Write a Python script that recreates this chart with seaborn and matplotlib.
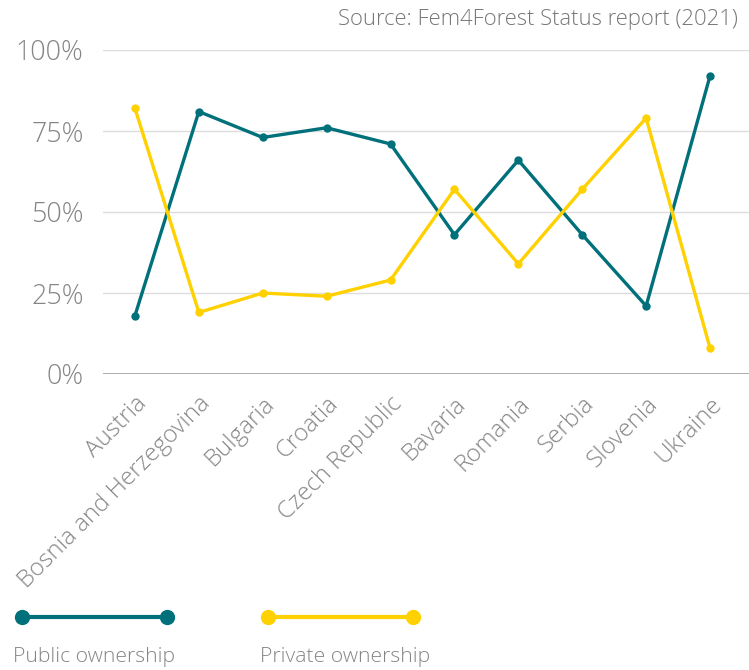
import pandas as pd
import seaborn as sns
import matplotlib.pyplot as plt
from matplotlib.lines import Line2D

countries = ['Austria', 'Bosnia and Herzegovina', 'Bulgaria', 'Croatia', 'Czech Republic',
             'Bavaria', 'Romania', 'Serbia', 'Slovenia', 'Ukraine']
public = [18, 81, 73, 76, 71, 43, 66, 43, 21, 92]
private = [82, 19, 25, 24, 29, 57, 34, 57, 79, 8]
series = ['Public ownership', 'Private ownership']
colors = {'Public ownership': '#00707a', 'Private ownership': '#ffd100'}
y_ticks = [0, 25, 50, 75, 100]

df = pd.concat([
    pd.DataFrame({'Country': countries, 'Share': public, 'Type': series[0]}),
    pd.DataFrame({'Country': countries, 'Share': private, 'Type': series[1]}),
], ignore_index=True)

sns.set_style('white')
plt.rcParams['font.family'] = ['Open Sans', 'DejaVu Sans']
plt.rcParams['font.weight'] = 'light'
grey = '#858585'

fig = plt.figure(figsize=(7.49, 6.70), dpi=100)
ax = fig.add_axes([103 / 749, 1 - 374 / 670, 1 - 103 / 749, (374 - 50) / 670])

sns.lineplot(data=df, x='Country', y='Share', hue='Type', palette=colors, sort=False,
             marker='o', markersize=6, markeredgewidth=0, linewidth=2.4, legend=False, ax=ax)

ax.set_xlim(-0.5, 9.61)
ax.set_ylim(0, 100)
ax.set_yticks(y_ticks)
ax.set_yticklabels([f'{t}%' for t in y_ticks], fontsize=19.4, color=grey, fontweight='light')
ax.set_xticks(range(len(countries)))
ax.set_xticklabels(countries, rotation=45, ha='right', rotation_mode='anchor',
                   fontsize=17.4, color=grey, fontweight='light')
ax.tick_params(axis='y', length=0, pad=14)
ax.tick_params(axis='x', length=0, pad=13)
for t in y_ticks[1:]:
    ax.axhline(t, color='#dddddd', linewidth=1, zorder=0)
ax.axhline(0, color='#a0a0a0', linewidth=1.2, zorder=0)
for s in ax.spines.values():
    s.set_visible(False)
ax.set_xlabel('')
ax.set_ylabel('')

fig.text(738 / 749, 1 - 20 / 670, 'Source: Fem4Forest Status report (2021)', ha='right', va='center',
         fontsize=15.8, color='#777777', fontweight='light')

# custom legend below chart
for name, x0, tx in [(series[0], 22, 13), (series[1], 268, 260)]:
    fig.add_artist(Line2D([x0 / 749, (x0 + 145) / 749], [1 - 617 / 670] * 2, color=colors[name],
                          linewidth=3, marker='o', markersize=11, markeredgewidth=0,
                          transform=fig.transFigure))
    fig.text(tx / 749, 1 - 657 / 670, name, ha='left', va='center', fontsize=15.2,
             color=grey, fontweight='light')

fig.savefig('out.png', dpi=100)
